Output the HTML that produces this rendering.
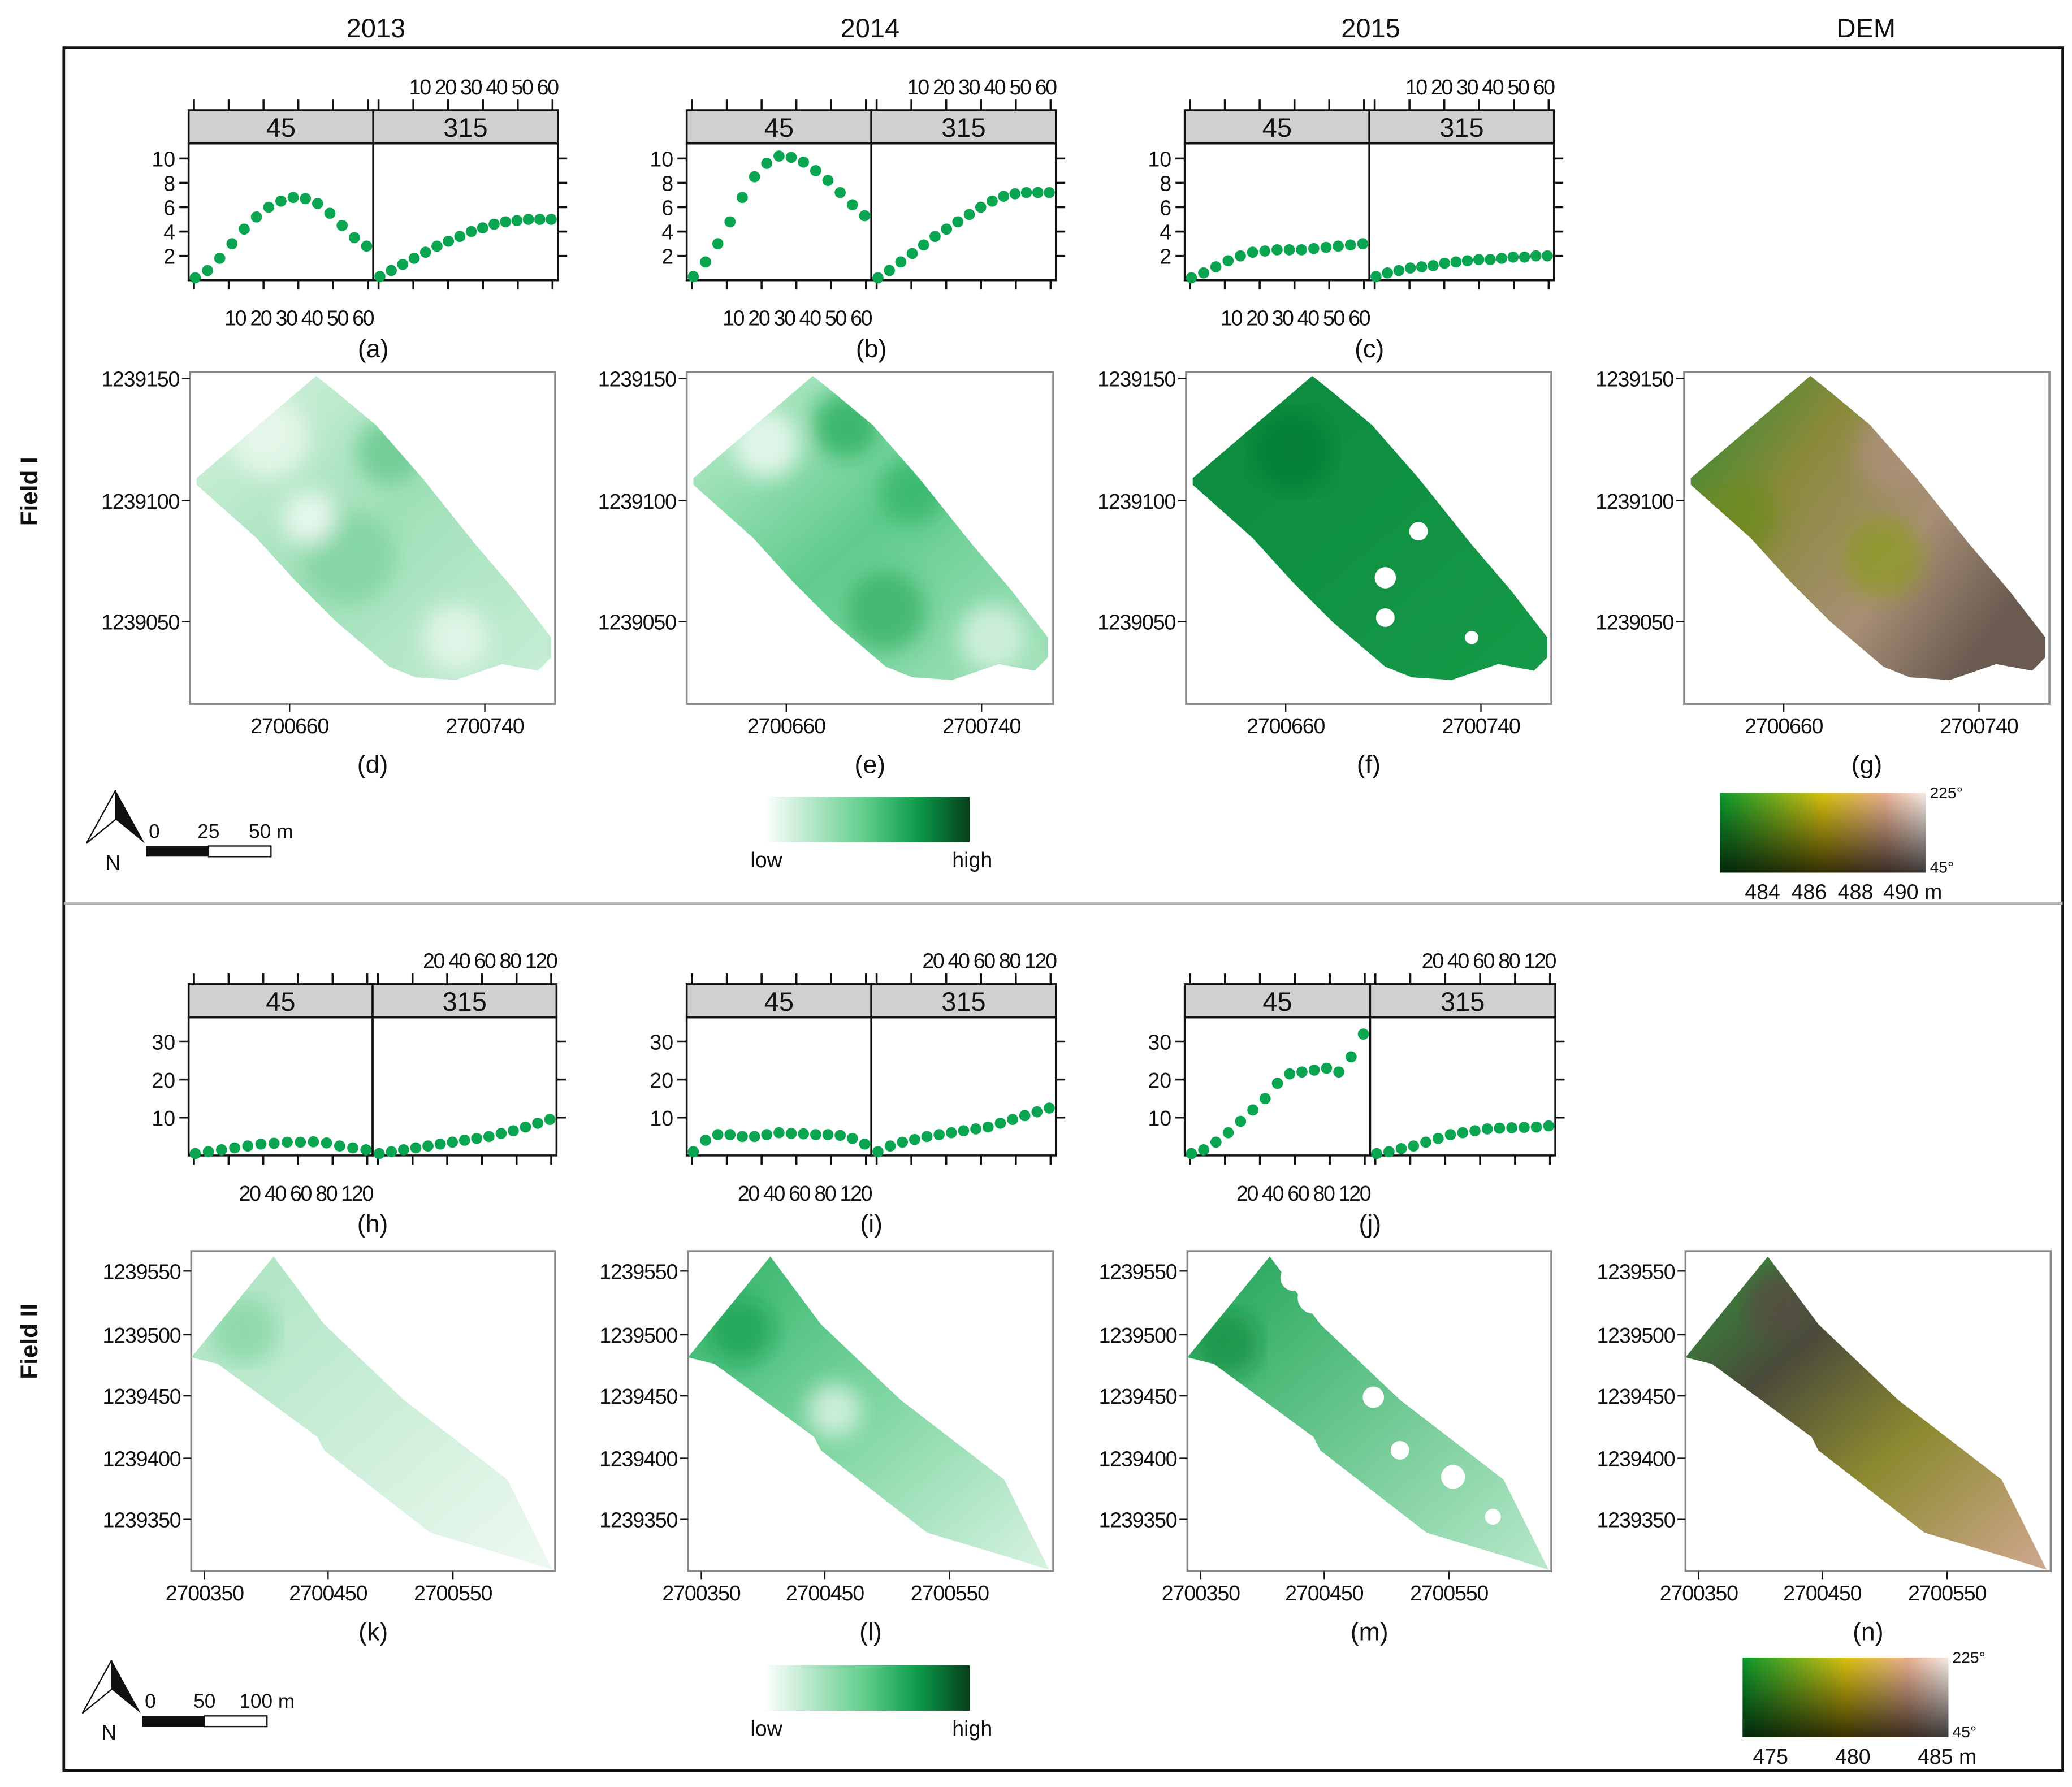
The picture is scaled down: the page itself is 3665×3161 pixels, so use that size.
<!DOCTYPE html>
<html><head><meta charset="utf-8"><style>
html,body{margin:0;padding:0;background:#fff}
svg{display:block}
text{font-family:"Liberation Sans",Arial,sans-serif;fill:#111}
</style></head><body>
<svg id="fig" width="3665" height="3161" viewBox="0 0 1560 1345.5" xmlns="http://www.w3.org/2000/svg">
<defs>
<linearGradient id="g13" x1="0" y1="0" x2="1" y2="1"><stop offset="0" stop-color="#d8f3e0"/><stop offset="0.5" stop-color="#9fe0b8"/><stop offset="1" stop-color="#c8eed6"/></linearGradient>
<linearGradient id="g14" x1="0" y1="0" x2="1" y2="1"><stop offset="0" stop-color="#c6efd4"/><stop offset="0.5" stop-color="#5fcb8c"/><stop offset="1" stop-color="#a6e3bd"/></linearGradient>
<linearGradient id="g15" x1="0" y1="0" x2="1" y2="1"><stop offset="0" stop-color="#0b8a3e"/><stop offset="1" stop-color="#169a48"/></linearGradient>
<linearGradient id="gdem" x1="0" y1="0" x2="1" y2="0.6"><stop offset="0" stop-color="#2a8a34"/><stop offset="0.35" stop-color="#8a8a3a"/><stop offset="0.7" stop-color="#a88f76"/><stop offset="1" stop-color="#6a5a50"/></linearGradient>
<linearGradient id="g13b" x1="0" y1="0" x2="1" y2="1"><stop offset="0" stop-color="#a8e3bf"/><stop offset="1" stop-color="#eef9f1"/></linearGradient>
<linearGradient id="g14b" x1="0" y1="0" x2="1" y2="1"><stop offset="0" stop-color="#2fb266"/><stop offset="0.5" stop-color="#7fd6a2"/><stop offset="1" stop-color="#d8f3e2"/></linearGradient>
<linearGradient id="g15b" x1="0" y1="0" x2="1" y2="1"><stop offset="0" stop-color="#1ea555"/><stop offset="1" stop-color="#b8e9cb"/></linearGradient>
<linearGradient id="gdemb" x1="0" y1="0" x2="1" y2="1"><stop offset="0" stop-color="#2f9a3a"/><stop offset="0.3" stop-color="#4a4a3a"/><stop offset="0.6" stop-color="#8c8a30"/><stop offset="1" stop-color="#d0a890"/></linearGradient>
<linearGradient id="lgG" x1="0" x2="1"><stop offset="0" stop-color="#ffffff"/><stop offset="0.5" stop-color="#5dcc8a"/><stop offset="0.75" stop-color="#0c9a4a"/><stop offset="1" stop-color="#063f1c"/></linearGradient>
<linearGradient id="lgD" x1="0" x2="1"><stop offset="0" stop-color="#0a9a2c"/><stop offset="0.5" stop-color="#d8c010"/><stop offset="0.8" stop-color="#e8b090"/><stop offset="1" stop-color="#f6ece8"/></linearGradient>
<linearGradient id="lgDv" x1="0" y1="0" x2="0" y2="1"><stop offset="0" stop-color="#000" stop-opacity="0"/><stop offset="1" stop-color="#000" stop-opacity="0.75"/></linearGradient>
<filter id="blur"><feGaussianBlur stdDeviation="8"/></filter>
</defs>

<g font-size="20">
<text x="283" y="28" text-anchor="middle">2013</text>
<text x="655" y="28" text-anchor="middle">2014</text>
<text x="1032" y="28" text-anchor="middle">2015</text>
<text x="1405" y="28" text-anchor="middle">DEM</text>
</g>
<rect x="48" y="36" width="1505" height="644" fill="none" stroke="#111" stroke-width="2"/>
<rect x="48" y="680" width="1505" height="653" fill="none" stroke="#111" stroke-width="2"/>
<line x1="48" y1="680" x2="1553" y2="680" stroke="#bbb" stroke-width="2"/>
<text transform="translate(28,370) rotate(-90)" text-anchor="middle" font-size="18" font-weight="bold">Field I</text>
<text transform="translate(28,1010) rotate(-90)" text-anchor="middle" font-size="18" font-weight="bold">Field II</text>

<g id="charts"></g>
<g id="maps"></g>
<g id="legends"></g>
</svg>
<script>
// ---- scatter data ----
const f1_a45 = [0.2,0.8,1.8,3.0,4.2,5.2,6.0,6.5,6.8,6.7,6.3,5.5,4.5,3.5,2.8];
const f1_a315 = [0.3,0.8,1.3,1.8,2.3,2.8,3.2,3.6,4.0,4.3,4.6,4.8,4.9,5.0,5.0,5.0];
const f1_b45 = [0.3,1.5,3.0,4.8,6.8,8.5,9.6,10.2,10.1,9.7,9.0,8.2,7.2,6.2,5.3];
const f1_b315 = [0.2,0.8,1.5,2.2,2.9,3.6,4.2,4.8,5.4,6.0,6.5,6.9,7.1,7.2,7.2,7.2];
const f1_c45 = [0.2,0.6,1.1,1.6,2.0,2.3,2.4,2.5,2.5,2.5,2.6,2.7,2.8,2.9,3.0];
const f1_c315 = [0.3,0.6,0.8,1.0,1.1,1.2,1.4,1.5,1.6,1.7,1.7,1.8,1.9,1.9,2.0,2.0];
const f2_h45 = [0.5,1.0,1.5,2.0,2.5,3.0,3.2,3.5,3.5,3.6,3.3,2.5,2.0,1.5];
const f2_h315 = [0.5,1.0,1.5,2.0,2.5,3.0,3.5,4.0,4.5,5.0,5.8,6.5,7.5,8.5,9.5];
const f2_i45 = [1,4,5.5,5.5,5,5,5.5,6,5.8,5.7,5.5,5.5,5.3,4.5,3];
const f2_i315 = [1,2.5,3.5,4.2,5,5.5,6,6.5,7,7.5,8.5,9.5,10.5,11.5,12.5];
const f2_j45 = [0.5,1.5,3.5,6,9,12,15,19,21.5,22,22.5,23,22,26,32];
const f2_j315 = [0.5,1,1.8,2.5,3.5,4.5,5.5,6,6.5,7,7.2,7.3,7.4,7.5,7.8];
const f1_yticks = [2,4,6,8,10];
const f2_yticks = [10,20,30];
const f1_xlab = "10 20 30 40 50 60";
const f2_xlab = "20 40 60 80   120";
const stripLabels = ["45","315"];

const NS="http://www.w3.org/2000/svg";
function mk(tag,attrs,parent){const e=document.createElementNS(NS,tag);for(const k in attrs)e.setAttribute(k,attrs[k]);parent.appendChild(e);return e;}
const charts=document.getElementById('charts');

function chart(id,x0,x1,stripTop,plotTop,plotBot,ymax,yticks,d45,d315,xlab,letter){
  const g=mk('g',{},charts);
  
  
  const mid=(x0+x1)/2;
  const ys=v=>plotBot-(v/ymax)*(plotBot-plotTop-4);
  // strips
  [[x0,mid],[mid,x1]].forEach((p,i)=>{
    const s=mk('rect',{x:p[0],y:stripTop,width:p[1]-p[0],height:plotTop-stripTop,fill:'#d0d0d0',stroke:'#111','stroke-width':1.5},g);
    
    
    const t=mk('text',{x:(p[0]+p[1])/2,y:plotTop-5,'text-anchor':'middle','font-size':20},g);t.textContent=stripLabels[i];
    mk('rect',{x:p[0],y:plotTop,width:p[1]-p[0],height:plotBot-plotTop,fill:'none',stroke:'#111','stroke-width':1.5},g);
  });
  // top & bottom ticks
  for(let k=0;k<=5;k++){
    const xa=x0+4+k*(mid-x0-8)/5, xb=mid+4+k*(x1-mid-8)/5;
    mk('line',{x1:xa,y1:stripTop,x2:xa,y2:stripTop-8,stroke:'#111','stroke-width':1.5},g);
    mk('line',{x1:xb,y1:stripTop,x2:xb,y2:stripTop-8,stroke:'#111','stroke-width':1.5},g);
    mk('line',{x1:xa,y1:plotBot,x2:xa,y2:plotBot+7,stroke:'#111','stroke-width':1.5},g);
    mk('line',{x1:xb,y1:plotBot,x2:xb,y2:plotBot+7,stroke:'#111','stroke-width':1.5},g);
  }
  // y ticks
  yticks.forEach(v=>{
    const y=ys(v);
    mk('line',{x1:x0,y1:y,x2:x0-7,y2:y,stroke:'#111','stroke-width':1.5},g);
    mk('line',{x1:x1,y1:y,x2:x1+7,y2:y,stroke:'#111','stroke-width':1.5},g);
    const t=mk('text',{x:x0-10,y:y+6,'text-anchor':'end','font-size':16},g);t.textContent=v;
  });
  // x labels
  const tt=mk('text',{x:x1,y:stripTop-12,'text-anchor':'end','font-size':16,'letter-spacing':'-1'},g);tt.textContent=xlab;
  const tb=mk('text',{x:mid,y:plotBot+34,'text-anchor':'end','font-size':16,'letter-spacing':'-1'},g);tb.textContent=xlab;
  const lt=mk('text',{x:mid,y:plotBot+58,'text-anchor':'middle','font-size':19},g);lt.textContent='('+letter+')';
  // points
  [[d45,x0,mid],[d315,mid,x1]].forEach(([d,a,b],si)=>{
    const xs=i=>a+5+i*(b-a-10)/(d.length-1);
    d.forEach((v,i)=>{
      const c=mk('circle',{cx:xs(i),cy:ys(v),r:4.2,fill:'#0aa550'},g);
      
      
    });
  });
}
chart('a',142,420,83,108,211,10.8,f1_yticks,f1_a45,f1_a315,f1_xlab,'a');
chart('b',517,795,83,108,211,10.8,f1_yticks,f1_b45,f1_b315,f1_xlab,'b');
chart('c',892,1170,83,108,211,10.8,f1_yticks,f1_c45,f1_c315,f1_xlab,'c');
chart('h',142,419,741,766,870,35,f2_yticks,f2_h45,f2_h315,f2_xlab,'h');
chart('i',517,795,741,766,870,35,f2_yticks,f2_i45,f2_i315,f2_xlab,'i');
chart('j',892,1171,741,766,870,35,f2_yticks,f2_j45,f2_j315,f2_xlab,'j');

// ---- maps ----
const maps=document.getElementById('maps');
const poly1=[[5,80],[95,3],[110,15],[140,40],[175,80],[215,130],[245,165],[272,200],[272,215],[262,225],[235,220],[200,232],[170,230],[150,222],[110,188],[80,158],[50,125],[5,85]];
const poly2=[[0,80],[62,4],[100,55],[160,112],[238,172],[272,240],[240,230],[180,212],[100,150],[95,140],[20,85]];
function map(x0,y0,w,h,poly,fill,ylabs,yls,xlabs,xls,letter,spots,holes){
  const g=mk('g',{},maps);
  
  
  mk('rect',{x:x0,y:y0,width:w,height:h,fill:'#fff',stroke:'#888','stroke-width':1.5},g);
  const pts=poly.map(p=>(x0+p[0])+','+(y0+p[1])).join(' ');
  const clipId='c'+letter;
  const cp=mk('clipPath',{id:clipId},g);mk('polygon',{points:pts},cp);
  const pg=mk('polygon',{points:pts,fill:fill},g);
  
  
  const sg=mk('g',{'clip-path':'url(#'+clipId+')'},g);
  const sb=mk('g',{filter:'url(#blur)'},sg);
  spots.forEach(s=>mk('circle',{cx:x0+s[0],cy:y0+s[1],r:s[2],fill:s[3],opacity:0.7},sb));
  holes.forEach(s=>mk('circle',{cx:x0+s[0],cy:y0+s[1],r:s[2],fill:'#fff'},sg));
  ylabs.forEach((l,i)=>{
    mk('line',{x1:x0,y1:yls[i],x2:x0-6,y2:yls[i],stroke:'#111'},g);
    const t=mk('text',{x:x0-8,y:yls[i]+6,'text-anchor':'end','font-size':16,'letter-spacing':'-0.5'},g);t.textContent=l;
  });
  xlabs.forEach((l,i)=>{
    mk('line',{x1:x0+xls[i],y1:y0+h,x2:x0+xls[i],y2:y0+h+6,stroke:'#111'},g);
    const t=mk('text',{x:x0+xls[i],y:y0+h+22,'text-anchor':'middle','font-size':16,'letter-spacing':'-0.5'},g);t.textContent=l;
  });
  const lt=mk('text',{x:x0+w/2,y:y0+h+52,'text-anchor':'middle','font-size':19},g);lt.textContent='('+letter+')';
}
const y1l=['1239150','1239100','1239050'], y1p=[285,377,468];
const x1l=['2700660','2700740'], x1p=[75,222];
const y2l=['1239550','1239500','1239450','1239400','1239350'], y2p=[957,1005,1051,1098,1144];
const x2l=['2700350','2700450','2700550'], x2p=[10,103,197];
map(143,280,275,250,poly1,'url(#g13)',y1l,y1p,x1l,x1p,'d',[[60,50,30,'#f2fbf4'],[150,60,25,'#5cc486'],[120,140,35,'#7ad29c'],[200,200,25,'#f0faf2'],[90,110,20,'#ffffff']],[]);
map(517,280,276,250,poly1,'url(#g14)',y1l,y1p,x1l,x1p,'e',[[60,55,25,'#ffffff'],[120,40,25,'#18a955'],[170,90,25,'#2fb466'],[150,180,30,'#2cae60'],[230,200,25,'#e6f7ec']],[]);
map(893,280,275,250,poly1,'url(#g15)',y1l,y1p,x1l,x1p,'f',[[80,60,30,'#047a32']],[[110,5,6],[175,120,7],[150,155,8],[150,185,7],[215,200,5]]);
map(1268,280,275,250,poly1,'url(#gdem)',y1l,y1p,x1l,x1p,'g',[[40,110,30,'#6b8a20'],[150,140,30,'#8a9a20'],[160,60,30,'#b09080']],[]);
map(144,942,274,241,poly2,'url(#g13b)',y2l,y2p,x2l,x2p,'k',[[40,60,25,'#7fd4a0']],[]);
map(518,942,275,241,poly2,'url(#g14b)',y2l,y2p,x2l,x2p,'l',[[40,60,25,'#16a04f'],[110,120,20,'#f0faf4']],[]);
map(894,942,274,241,poly2,'url(#g15b)',y2l,y2p,x2l,x2p,'m',[[30,70,25,'#138f45']],[[95,35,12],[80,20,10],[140,110,8],[160,150,7],[200,170,9],[230,200,6]]);
map(1269,942,275,241,poly2,'url(#gdemb)',y2l,y2p,x2l,x2p,'n',[[70,40,25,'#5a4a44']],[]);

// ---- legends ----
const lg=document.getElementById('legends');
function north(x,y,scaleLabels,sfx){
  const g=mk('g',{},lg);
  
  
  mk('polygon',{points:`${x+22},${y} ${x},${y+40} ${x+22},${y+22}`,fill:'#fff',stroke:'#111'},g);
  mk('polygon',{points:`${x+22},${y} ${x+44},${y+40} ${x+22},${y+22}`,fill:'#111'},g);
  const n=mk('text',{x:x+20,y:y+60,'font-size':16,'text-anchor':'middle'},g);n.textContent='N';
  mk('rect',{x:x+45,y:y+42,width:47,height:8,fill:'#111'},g);
  mk('rect',{x:x+92,y:y+42,width:47,height:8,fill:'#fff',stroke:'#111'},g);
  scaleLabels.forEach((l,i)=>{const t=mk('text',{x:x+45+i*47+(i==0?2:0),y:y+36,'font-size':15,'text-anchor':i==0?'start':'middle'},g);t.textContent=l;});
}
north(65,595,['0','25','50 m']);
north(62,1250,['0','50','100 m']);
function glegend(x,y){
  const g=mk('g',{},lg);
  
  
  for(let i=0;i<10;i++) mk('rect',{x:x+i*15.5,y:y,width:15.5,height:34,fill:'url(#lgG)'},g);
  mk('rect',{x:x,y:y,width:155,height:34,fill:'url(#lgG)'},g);
  const a=mk('text',{x:x+2,y:y+53,'font-size':16,'text-anchor':'middle'},g);a.textContent='low';
  const b=mk('text',{x:x+157,y:y+53,'font-size':16,'text-anchor':'middle'},g);b.textContent='high';
}
glegend(575,600);
glegend(575,1254);
function dlegend(x,y,w,labs,lx){
  const g=mk('g',{},lg);
  
  
  mk('rect',{x:x,y:y,width:w,height:60,fill:'url(#lgD)'},g);
  mk('rect',{x:x,y:y,width:w,height:60,fill:'url(#lgDv)'},g);
  const a=mk('text',{x:x+w+3,y:y+4,'font-size':12},g);a.textContent='225°';
  const b=mk('text',{x:x+w+3,y:y+60,'font-size':12},g);b.textContent='45°';
  labs.forEach((l,i)=>{const t=mk('text',{x:lx[i],y:y+80,'font-size':16,'text-anchor':'middle'},g);t.textContent=l;});
}
dlegend(1295,597,155,['484','486','488','490 m'],[1327,1362,1397,1440]);
dlegend(1312,1248,155,['475','480','485 m'],[1333,1395,1466]);
</script>
</body></html>
